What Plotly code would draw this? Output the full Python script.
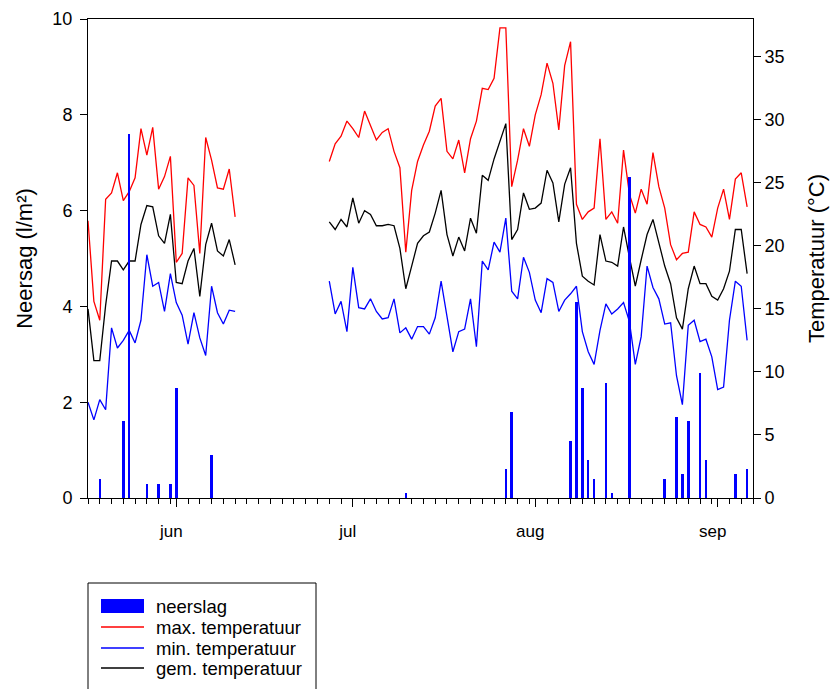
import pandas as pd
import plotly.graph_objects as go

# Daily temperatures (°C), two observation periods
start_a = "2018-05-17"
start_b = "2018-06-27"

tmax_a = [22.0, 15.6, 14.1, 23.7, 24.2, 25.8, 23.6, 24.3, 25.4, 29.3, 27.2, 29.4, 24.5,
          25.5, 27.1, 18.7, 19.4, 25.4, 24.8, 19.4, 28.6, 26.8, 24.6, 24.5, 26.1, 22.3]
tmin_a = [7.6, 6.2, 7.8, 7.0, 13.5, 11.9, 12.5, 13.3, 12.3, 14.1, 19.3, 16.8, 17.1,
          14.8, 17.8, 15.5, 14.5, 12.2, 14.7, 12.7, 11.3, 16.8, 14.7, 13.8, 14.9, 14.8]
tgem_a = [15.0, 10.9, 10.9, 15.3, 18.8, 18.8, 18.1, 18.8, 18.8, 21.7, 23.2, 23.1, 20.8,
          20.2, 22.5, 17.1, 17.0, 18.8, 19.8, 16.0, 20.1, 21.8, 19.6, 19.2, 20.5, 18.5]

tmax_b = [26.7, 28.1, 28.7, 29.9, 29.3, 28.6, 30.7, 29.5, 28.4, 29.0, 29.3, 27.5, 26.2,
          19.5, 24.4, 26.7, 28.0, 29.1, 31.1, 31.7, 27.5, 26.9, 28.4, 25.8, 28.5, 29.9,
          32.5, 32.4, 33.3, 37.3, 37.3, 24.7, 26.8, 29.3, 27.9, 30.4, 32.0, 34.5, 32.9,
          29.2, 34.3, 36.2, 23.3, 22.1, 22.7, 23.0, 28.5, 22.1, 22.7, 21.8, 27.6, 24.1,
          22.6, 24.5, 23.3, 27.4, 24.7, 23.0, 20.1, 18.9, 19.4, 19.5, 22.7, 21.7, 21.5,
          20.7, 23.0, 24.5, 22.1, 25.3, 25.8, 23.1]
tmin_b = [17.2, 14.6, 15.6, 13.2, 18.3, 15.1, 15.0, 15.8, 14.8, 14.2, 14.3, 15.8, 13.1,
          13.5, 12.6, 13.6, 13.6, 13.0, 14.3, 17.2, 14.4, 11.6, 13.2, 13.4, 15.8, 12.0,
          18.8, 18.1, 20.3, 19.5, 22.2, 16.4, 15.8, 19.1, 17.9, 15.7, 14.7, 17.4, 17.1,
          14.8, 15.7, 16.2, 16.8, 13.2, 11.6, 10.6, 13.3, 15.4, 14.6, 15.0, 15.5, 14.0,
          10.6, 12.8, 18.4, 16.7, 15.8, 13.8, 13.9, 9.7, 7.4, 13.7, 14.1, 12.4, 12.6,
          11.2, 8.6, 8.8, 14.1, 17.2, 16.8, 12.5]
tgem_b = [21.9, 21.3, 22.1, 21.5, 23.8, 21.8, 22.8, 22.5, 21.6, 21.6, 21.7, 21.6, 19.8,
          16.6, 18.4, 20.2, 20.8, 21.1, 22.6, 24.4, 20.9, 19.2, 20.7, 19.6, 22.2, 21.0,
          25.6, 25.2, 26.9, 28.3, 29.7, 20.5, 21.3, 24.2, 22.9, 23.0, 23.4, 26.0, 25.0,
          21.9, 24.9, 26.2, 20.2, 17.6, 17.2, 16.9, 20.9, 18.8, 18.7, 18.4, 21.5, 19.1,
          16.8, 18.9, 20.9, 22.1, 20.2, 18.4, 17.0, 14.3, 13.4, 16.6, 18.4, 17.0, 17.0,
          16.0, 15.7, 16.6, 18.0, 21.3, 21.3, 17.8]

# Daily precipitation (l/m²), rain days only
rain_dates = ["2018-05-19", "2018-05-23", "2018-05-24", "2018-05-27", "2018-05-29",
              "2018-05-31", "2018-06-01", "2018-06-07", "2018-07-10", "2018-07-27",
              "2018-07-28", "2018-08-07", "2018-08-08", "2018-08-09", "2018-08-10",
              "2018-08-11", "2018-08-13", "2018-08-14", "2018-08-17", "2018-08-23",
              "2018-08-25", "2018-08-26", "2018-08-27", "2018-08-29", "2018-08-30",
              "2018-09-04", "2018-09-06"]
rain_mm = [0.4, 1.6, 7.6, 0.3, 0.3, 0.3, 2.3, 0.9, 0.1, 0.6,
           1.8, 1.2, 4.1, 2.3, 0.8, 0.4, 2.4, 0.1, 6.7, 0.4,
           1.7, 0.5, 1.6, 2.6, 0.8, 0.5, 0.6]

month_ticks = ["2018-06-01", "2018-07-01", "2018-08-01", "2018-09-01"]
month_labels = ["jun", "jul", "aug", "sep"]

x_start, x_end = "2018-05-17", "2018-09-07"

RED, BLUE, BLACK = "#ff0000", "#0000ff", "#000000"

# Join the two periods with a break so the lines are not connected across the gap
dates_a = list(pd.date_range(start_a, periods=len(tmax_a)))
dates_b = list(pd.date_range(start_b, periods=len(tmax_b)))
x_all = dates_a + [None] + dates_b


def joined(a, b):
    return list(a) + [None] + list(b)


FONT = "Liberation Sans, Arial, sans-serif"

fig = go.Figure()

fig.add_trace(go.Bar(
    x=pd.to_datetime(rain_dates), y=rain_mm, yaxis="y2",
    marker=dict(color=BLUE, line=dict(width=0)),
    width=0.42 * 86400000, name="neerslag",
))
series = [
    ("max. temperatuur", joined(tmax_a, tmax_b), RED),
    ("min. temperatuur", joined(tmin_a, tmin_b), BLUE),
    ("gem. temperatuur", joined(tgem_a, tgem_b), BLACK),
]
for name, values, color in series:
    fig.add_trace(go.Scatter(
        x=x_all, y=values, mode="lines", name=name,
        line=dict(color=color, width=1.3), connectgaps=False,
    ))

minor_vals = [d for d in pd.date_range(x_start, x_end) if d.day % 2 == 1]

W, H = 835, 689
L, R, T, B = 88, 82, 19, 191
pw, ph = W - L - R, H - T - B


def px_x(p):
    return (p - L) / pw


def px_y(p):
    return (H - B - p) / ph


# Legend box below the plot: frame, key symbols and labels
shapes = [dict(
    type="rect", xref="paper", yref="paper",
    x0=px_x(88), x1=px_x(316), y0=px_y(583), y1=px_y(720),
    line=dict(color="black", width=1), fillcolor="rgba(0,0,0,0)",
)]
annotations = []
legend_rows = [("neerslag", BLUE, "block")] + [(n, c, "line") for n, _, c in series]
row_y = [606, 627, 648, 668]
for (label, color, kind), yy in zip(legend_rows, row_y):
    if kind == "block":
        shapes.append(dict(
            type="rect", xref="paper", yref="paper",
            x0=px_x(101), x1=px_x(144), y0=px_y(yy + 7), y1=px_y(yy - 7),
            line=dict(width=0), fillcolor=color,
        ))
    else:
        shapes.append(dict(
            type="line", xref="paper", yref="paper",
            x0=px_x(101), x1=px_x(144), y0=px_y(yy), y1=px_y(yy),
            line=dict(color=color, width=1.3),
        ))
    annotations.append(dict(
        text=label, xref="paper", yref="paper", x=px_x(154), y=px_y(yy),
        xanchor="left", yanchor="middle", showarrow=False,
        font=dict(size=18.5, color="black"),
    ))

fig.update_layout(
    width=W, height=H,
    margin=dict(l=L, r=R, t=T, b=B, pad=0, autoexpand=False),
    paper_bgcolor="white", plot_bgcolor="white",
    font=dict(family=FONT, size=18, color="black"),
    showlegend=False,
    bargap=0,
    xaxis=dict(
        type="date", range=[x_start, x_end],
        tickmode="array", tickvals=month_ticks, ticktext=month_labels,
        ticks="outside", ticklen=8, tickwidth=1, tickcolor="black",
        ticklabelshift=-5, ticklabelstandoff=10,
        minor=dict(tickmode="array", tickvals=minor_vals, ticks="outside",
                   ticklen=5, tickwidth=1, tickcolor="black"),
        showline=True, linecolor="black", linewidth=1, mirror=True,
        showgrid=False, zeroline=False,
        tickfont=dict(size=17),
    ),
    yaxis=dict(
        title=dict(text="Temperatuur (°C)", standoff=24),
        side="right", range=[0, 38], tickmode="linear", tick0=0, dtick=5,
        ticks="outside", ticklen=7, tickcolor="black",
        showline=True, linecolor="black", linewidth=1,
        showgrid=False, zeroline=False,
    ),
    yaxis2=dict(
        title=dict(text="Neersag (l/m²)", standoff=13),
        side="left", overlaying="y", range=[0, 10], tickmode="linear", tick0=0, dtick=2,
        ticks="outside", ticklen=7, tickcolor="black", ticklabelstandoff=4,
        showline=True, linecolor="black", linewidth=1,
        showgrid=False, zeroline=False,
    ),
    shapes=shapes,
    annotations=annotations,
)

fig.write_html("out.html")
